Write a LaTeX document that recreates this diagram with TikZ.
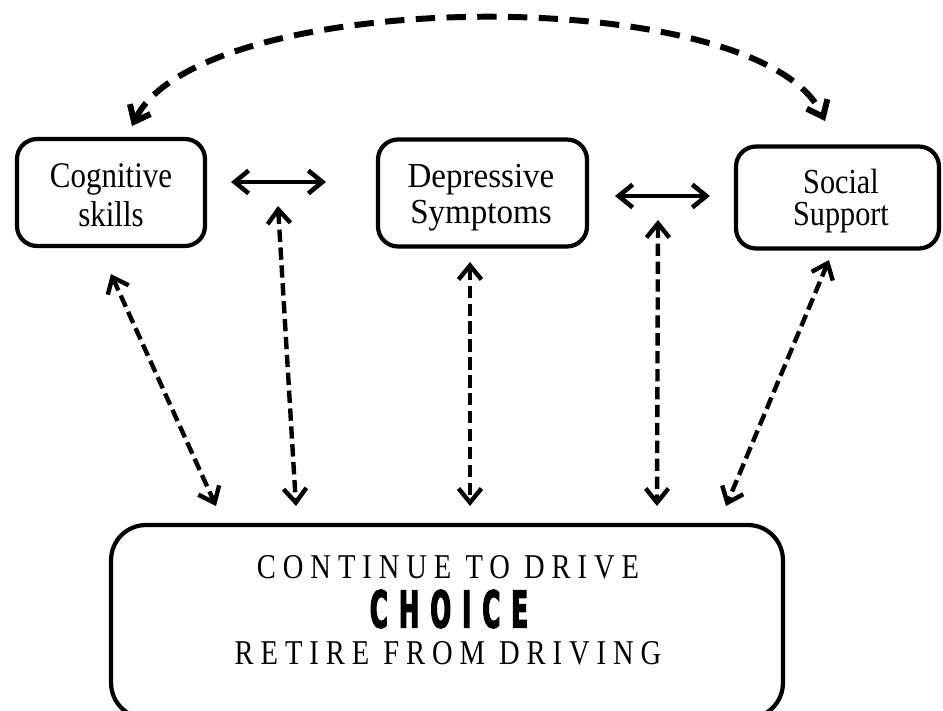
\documentclass[tikz,border=0pt]{standalone}
\usepackage{fontspec}
\usetikzlibrary{arrows.meta}
\setmainfont{Liberation Serif}
\newfontfamily\boxfontA[FakeStretch=0.86]{Liberation Serif}
\newfontfamily\boxfontB[FakeStretch=0.94]{Liberation Serif}
\newfontfamily\capsfont[FakeStretch=0.82,LetterSpace=20]{Liberation Serif}
\newfontfamily\choicefont[FakeStretch=0.475,LetterSpace=22,FakeBold=2.6]{DejaVu Sans}
\begin{document}
\begin{tikzpicture}[x=0.02cm,y=-0.02cm,
  box/.style={draw, line width=2.4pt, rounded corners=0.4cm, inner sep=0pt},
  boxtext/.style={inner sep=0pt, align=center},
  barb/.tip={Straight Barb[length=8pt,width=13pt]},
  solidarrow/.style={line width=2.6pt, barb-barb},
  dasharrow/.style={line width=2.5pt, dash pattern=on 7pt off 3.2pt, barb-barb},
  arcarrow/.style={line width=3.4pt, dash pattern=on 11pt off 6.5pt, barb-barb},
  capstext/.style={font=\capsfont\fontsize{19.8}{22}\selectfont, inner sep=0pt}]
\useasboundingbox (0,0) rectangle (943,710);
\clip (0,0) rectangle (943,710);

% boxes
\node[box, minimum width=3.76cm, minimum height=2.14cm] (cog) at (111,192.5) {};
\node[box, minimum width=4.18cm, minimum height=2.14cm] (dep) at (482.5,193) {};
\node[box, minimum width=4.06cm, minimum height=2.04cm] (soc) at (837.5,197.5) {};
\node[box, rounded corners=0.7cm, minimum width=13.44cm, minimum height=3.86cm] (choicebox) at (447,621.5) {};

% box texts
\node[boxtext, font=\boxfontA\fontsize{20.5}{22}\selectfont] (cogtext) at (111,195) {Cognitive\\skills};
\node[boxtext, font=\boxfontB\fontsize{20}{20.5}\selectfont] (deptext) at (481,198) {Depressive\\Symptoms};
\node[boxtext, font=\boxfontA\fontsize{20}{18.5}\selectfont] (soctext) at (841,201) {Social\\Support};

% texts in bottom box
\node[capstext] (cont) at (448,567) {CONTINUE TO DRIVE};
\node[inner sep=0pt, font=\choicefont\bfseries\fontsize{29}{32}\selectfont] (choice) at (449,609) {CHOICE};
\node[capstext] (retire) at (448,653) {RETIRE FROM DRIVING};

% solid horizontal arrows
\coordinate (s1a) at (231,182);
\coordinate (s1b) at (326,182);
\coordinate (s2a) at (615,196);
\coordinate (s2b) at (710,196);
\draw[solidarrow] (s1a) -- (s1b);
\draw[solidarrow] (s2a) -- (s2b);

% dashed arrows to the choice box
\coordinate (d1t) at (111,274);
\coordinate (d1b) at (216,506);
\coordinate (d2t) at (278,206);
\coordinate (d2b) at (296,506);
\coordinate (d3t) at (470,262);
\coordinate (d3b) at (470,506);
\coordinate (d4t) at (658,220);
\coordinate (d4b) at (657,506);
\coordinate (d5t) at (829,260);
\coordinate (d5b) at (726,506);
\draw[dasharrow] (d1t) -- (d1b);
\draw[dasharrow] (d2t) -- (d2b);
\draw[dasharrow] (d3t) -- (d3b);
\draw[dasharrow] (d4t) -- (d4b);
\draw[dasharrow] (d5t) -- (d5b);

% top arc
\coordinate (arcL) at (132,126);
\coordinate (arcR) at (825,121);
\draw[arcarrow] (arcL) .. controls (200,-14) and (760,-19) .. (arcR);
\end{tikzpicture}
\end{document}
